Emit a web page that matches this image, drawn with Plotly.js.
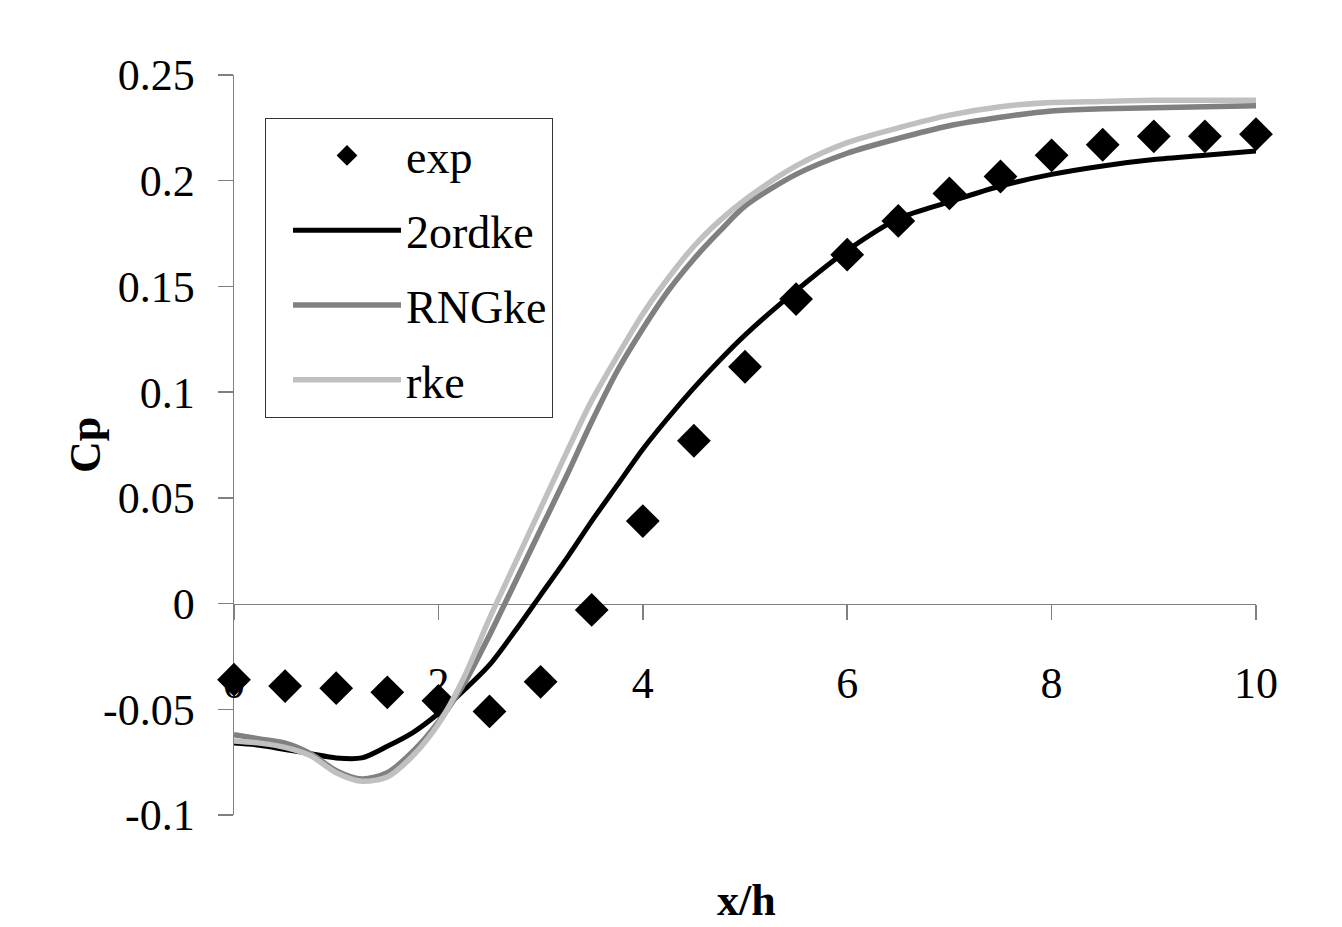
<!DOCTYPE html>
<html>
<head>
<meta charset="utf-8">
<script src="https://cdn.plot.ly/plotly-3.0.1.min.js"></script>
<style>html,body{margin:0;padding:0;background:#fff;}#chart{width:1342px;height:927px;}</style>
</head>
<body>
<div id="chart"></div>
<script>
// Experimental data
const expX = [0, 0.5, 1, 1.5, 2, 2.5, 3, 3.5, 4, 4.5, 5, 5.5, 6, 6.5, 7, 7.5, 8, 8.5, 9, 9.5, 10];
const expY = [-0.036, -0.039, -0.040, -0.042, -0.046, -0.051, -0.037, -0.003, 0.039, 0.077, 0.112, 0.144, 0.165, 0.181, 0.194, 0.202, 0.212, 0.217, 0.221, 0.221, 0.222];

// Simulation curves
const simX = [0, 0.25, 0.5, 0.75, 1.0, 1.25, 1.5, 1.75, 2.0, 2.25, 2.5, 2.75, 3.0, 3.25, 3.5, 3.75, 4.0, 4.25, 4.5, 4.75, 5.0, 5.5, 6.0, 6.5, 7.0, 7.5, 8.0, 8.5, 9.0, 9.5, 10];
const ordkeY = [-0.066, -0.067, -0.069, -0.071, -0.073, -0.073, -0.0675, -0.061, -0.052, -0.041, -0.029, -0.013, 0.004, 0.021, 0.039, 0.056, 0.073, 0.088, 0.102, 0.115, 0.127, 0.148, 0.167, 0.182, 0.190, 0.1975, 0.203, 0.207, 0.210, 0.212, 0.214];
const rngY = [-0.062, -0.064, -0.066, -0.071, -0.079, -0.083, -0.080, -0.070, -0.056, -0.038, -0.015, 0.010, 0.035, 0.060, 0.086, 0.110, 0.130, 0.148, 0.163, 0.176, 0.188, 0.203, 0.213, 0.220, 0.226, 0.230, 0.233, 0.234, 0.2345, 0.235, 0.2355];
const rkeY = [-0.065, -0.066, -0.068, -0.072, -0.080, -0.084, -0.082, -0.072, -0.057, -0.035, -0.007, 0.019, 0.045, 0.071, 0.096, 0.117, 0.137, 0.154, 0.169, 0.181, 0.191, 0.207, 0.218, 0.225, 0.231, 0.235, 0.237, 0.2375, 0.238, 0.238, 0.238];

const seriesNames = ['exp', '2ordke', 'RNGke', 'rke'];
const xTicks = [0, 2, 4, 6, 8, 10];
const yTicks = [-0.1, -0.05, 0, 0.05, 0.1, 0.15, 0.2, 0.25];
const yTickText = ['-0.1', '-0.05', '0', '0.05', '0.1', '0.15', '0.2', '0.25'];

const FONT = '"Liberation Serif", "Times New Roman", serif';

const traces = [
  {x: expX, y: expY, name: seriesNames[0], mode: 'markers', type: 'scatter', legendgroup: 'a',
   cliponaxis: false,
   marker: {symbol: 'diamond', size: 26, color: '#000000', line: {width: 0}}},
  {x: simX, y: ordkeY, name: seriesNames[1], mode: 'lines', type: 'scatter', legendgroup: 'b',
   line: {color: '#000000', width: 5, shape: 'spline', smoothing: 0.8}},
  {x: simX, y: rngY, name: seriesNames[2], mode: 'lines', type: 'scatter', legendgroup: 'c',
   line: {color: '#808080', width: 5.5, shape: 'spline', smoothing: 0.8}},
  {x: simX, y: rkeY, name: seriesNames[3], mode: 'lines', type: 'scatter', legendgroup: 'd',
   line: {color: '#c0c0c0', width: 5.5, shape: 'spline', smoothing: 0.8}}
];

const layout = {
  width: 1342, height: 927,
  margin: {l: 234, r: 86, t: 75, b: 112},
  paper_bgcolor: '#ffffff', plot_bgcolor: '#ffffff',
  font: {family: FONT, size: 44, color: '#000000'},
  showlegend: true,
  legend: {
    x: (265 - 234) / 1022, y: 1 - (118 - 75) / 740, xanchor: 'left', yanchor: 'top',
    bgcolor: '#ffffff', bordercolor: '#333333', borderwidth: 1,
    font: {family: FONT, size: 46, color: '#000000'},
    itemwidth: 108, tracegroupgap: 12, traceorder: 'grouped', indentation: 22
  },
  xaxis: {
    range: [0, 10], tickvals: xTicks, ticktext: xTicks.map(String),
    anchor: 'free', position: 0.1 / 0.35,
    showline: true, linecolor: '#808080', linewidth: 1.5,
    ticks: 'outside', ticklen: 15, tickcolor: '#808080', tickwidth: 1.5,
    ticklabelstandoff: 25,
    showgrid: false, zeroline: false, layer: 'below traces',
    tickfont: {family: FONT, size: 44, color: '#000000'}
  },
  yaxis: {
    range: [-0.1, 0.25], tickvals: yTicks, ticktext: yTickText,
    showline: true, linecolor: '#808080', linewidth: 1.5,
    ticks: 'outside', ticklen: 15, tickcolor: '#808080', tickwidth: 1.5,
    ticklabelstandoff: 14,
    showgrid: false, zeroline: false, layer: 'below traces',
    tickfont: {family: FONT, size: 44, color: '#000000'}
  },
  annotations: [
    {text: '<b>Cp</b>', xref: 'paper', yref: 'paper', x: (85 - 234) / 1022, y: 0.5,
     textangle: -90, showarrow: false, xanchor: 'center', yanchor: 'middle',
     font: {family: FONT, size: 44, color: '#000000'}},
    {text: '<b>x/h</b>', xref: 'paper', yref: 'paper', x: (746 - 234) / 1022, y: 1 - (900 - 75) / 740,
     showarrow: false, xanchor: 'center', yanchor: 'middle',
     font: {family: FONT, size: 44, color: '#000000'}}
  ]
};

Plotly.newPlot('chart', traces, layout, {displayModeBar: false, staticPlot: true});
</script>
</body>
</html>
